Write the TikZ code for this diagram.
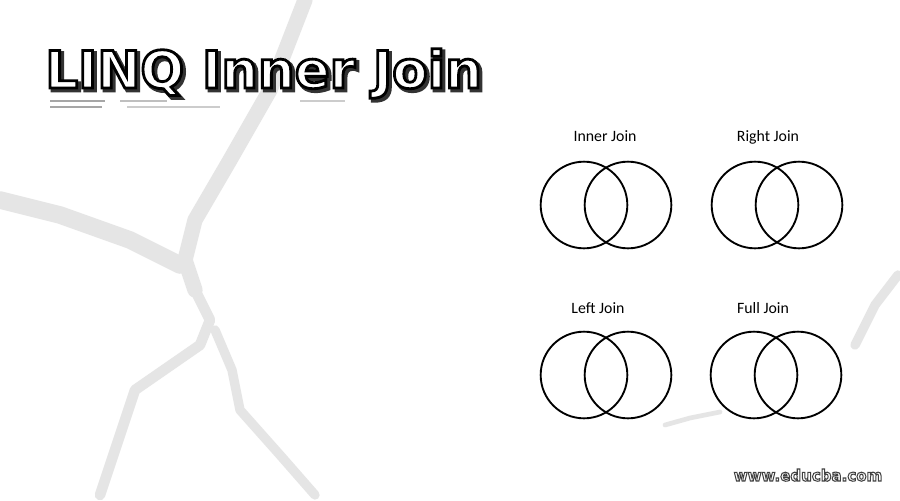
\documentclass[tikz,border=0pt]{standalone}
\usepackage{fontspec}
\setmainfont{Carlito}
\newfontfamily\titlefont{DejaVu Sans}
\newcommand\outlined[3]{\special{pdf:literal direct 2 Tr #1 w #2 RG}#3\special{pdf:literal direct 0 Tr}}
\tikzset{
  venn/.style={circle,draw=black,line width=1.6pt,minimum size=2.6cm,inner sep=0pt},
  joinlabel/.style={font=\fontsize{13.5}{15}\selectfont,anchor=base,inner sep=0pt},
  ttl/.style={font=\titlefont\bfseries\fontsize{44}{48}\selectfont,anchor=base west,inner sep=0pt},
  wm/.style={font=\titlefont\bfseries\fontsize{13.5}{15}\selectfont,anchor=base,inner sep=0pt,xscale=0.95},
  streak/.style={draw=gray!20,line cap=round,line join=round},
  rule/.style={draw=gray!70,line width=1.2pt}
}
\newcommand\mytitle{LINQ Inner Join}
\begin{document}
\begin{tikzpicture}[x=0.03cm,y=-0.03cm]
\useasboundingbox[fill=white] (0,0) rectangle (900,500);
% background streaks
\draw[streak,line width=13pt] (305,0) -- (270,90) -- (230,160) -- (195,220) -- (185,260) -- (195,290);
\draw[streak,line width=9pt] (195,290) -- (210,320) -- (200,345) -- (135,390) -- (100,495);
\draw[streak,line width=8pt] (215,330) -- (232,370) -- (240,410) -- (280,455) -- (315,495);
\draw[streak,line width=15pt] (0,200) -- (60,215) -- (130,240) -- (180,265);
\draw[streak,line width=8pt] (855,345) -- (875,305) -- (898,275);
\draw[streak,line width=4pt] (665,425) -- (690,418) -- (720,412);
% title underline strokes
\draw[rule] (50,101) -- (105,101);
\draw[rule] (50,107) -- (102,107);
\draw[rule,draw=gray!50] (120,101) -- (167,101);
\draw[rule,draw=gray!40] (127,107) -- (220,107);
\draw[rule,draw=gray!40] (300,101) -- (345,101);
% title: shadow, then outlined white face
\node[ttl,text=gray!35!black] (tshadow) at (47.5,90.5) {\outlined{3.2}{0.2 0.2 0.2}{\mytitle}};
\node[ttl,text=white] (title) at (45,88) {\outlined{2.4}{0 0 0}{\mytitle}};
% labels
\node[joinlabel] (linner) at (605,141) {Inner Join};
\node[joinlabel] (lright) at (768,141) {Right Join};
\node[joinlabel] (lleft) at (598,313) {Left Join};
\node[joinlabel] (lfull) at (763,313) {Full Join};
% venn circles
\node[venn] (ia) at (584,205) {};
\node[venn] (ib) at (628,205) {};
\node[venn] (ra) at (755,205) {};
\node[venn] (rb) at (799,205) {};
\node[venn] (la) at (584,375) {};
\node[venn] (lb) at (628,375) {};
\node[venn] (fa) at (754,375) {};
\node[venn] (fb) at (798,375) {};
% watermark
\node[wm,text=white] (wmark) at (808,481) {\outlined{0.9}{0.25 0.25 0.25}{www.educba.com}};
\end{tikzpicture}
\end{document}
